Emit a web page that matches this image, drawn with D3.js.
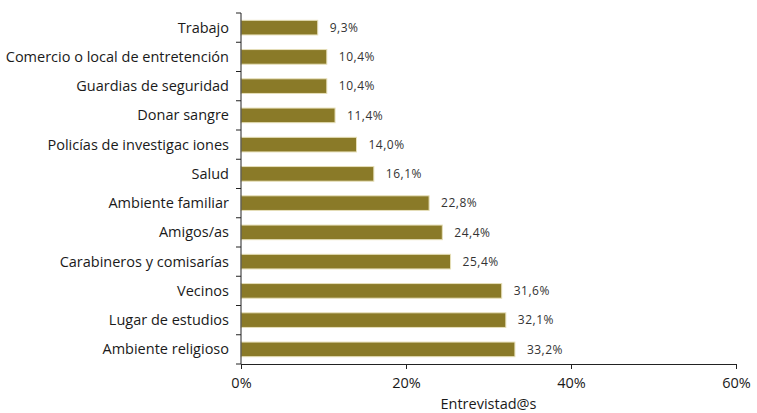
<!DOCTYPE html>
<html><head><meta charset="utf-8">
<script src="https://cdn.jsdelivr.net/npm/d3@7"></script>
<style>body{margin:0;background:#fff}</style>
</head><body><svg id="c" width="757" height="413"></svg>
<script>
const categories = ["Trabajo","Comercio o local de entretención","Guardias de seguridad","Donar sangre","Policías de investigac iones","Salud","Ambiente familiar","Amigos/as","Carabineros y comisarías","Vecinos","Lugar de estudios","Ambiente religioso"];
const values = [9.3,10.4,10.4,11.4,14.0,16.1,22.8,24.4,25.4,31.6,32.1,33.2];
const xTicks = [0,20,40,60];
const axisTitle = "Entrevistad@s";

(function(){
const svg = d3.select("#c");
const mL = 241, mR = 736, mT = 13, mB = 364;
const x = d3.scaleLinear().domain([0,60]).range([mL,mR]);
const y = d3.scaleBand().domain(categories).range([mT,mB]).paddingInner(0.5).paddingOuter(0.25);
const font = "'Open Sans', 'Noto Sans', sans-serif";

// bars
svg.append("g").selectAll("rect").data(values).join("rect")
  .attr("x", x(0)).attr("y",(d,i)=>y(categories[i]))
  .attr("width", d=>x(d)-x(0)).attr("height", y.bandwidth())
  .attr("fill","#8a7a28").attr("stroke","#e6dfb8").attr("stroke-width",1);

// value labels
svg.append("g").selectAll("text").data(values).join("text")
  .attr("x", d=>x(d)+12).attr("y",(d,i)=>y(categories[i])+y.bandwidth()/2)
  .attr("dy","0.35em").attr("font-family",font).attr("font-size",12)
  .attr("letter-spacing","0.5px").attr("fill","#333")
  .text(d=>d.toFixed(1).replace(".",",")+"%");

// y axis
const yAxis = svg.append("g");
yAxis.append("line").attr("x1",mL).attr("x2",mL).attr("y1",mT).attr("y2",mB).attr("stroke","#222");
const bounds = d3.range(categories.length+1).map(i=>mT + i*(mB-mT)/categories.length);
yAxis.selectAll("line.t").data(bounds).join("line").attr("class","t")
  .attr("x1",mL-5).attr("x2",mL).attr("y1",d=>d).attr("y2",d=>d).attr("stroke","#222");
yAxis.selectAll("text").data(categories).join("text")
  .attr("x",mL-12).attr("y",d=>y(d)+y.bandwidth()/2).attr("dy","0.35em")
  .attr("text-anchor","end").attr("font-family",font).attr("font-size",14.5).attr("fill","#1a1a1a")
  .text(d=>d);

// x axis
const xAxis = svg.append("g").attr("transform",`translate(0,${mB})`)
  .call(d3.axisBottom(x).tickValues(xTicks).tickFormat(d=>d+"%").tickSize(5).tickPadding(9));
xAxis.select(".domain").attr("stroke","#222");
xAxis.selectAll(".tick line").attr("stroke","#222");
xAxis.selectAll("text").attr("font-family",font).attr("font-size",14.5).attr("fill","#1a1a1a");

svg.append("text").attr("x",(mL+mR)/2).attr("y",409).attr("text-anchor","middle")
  .attr("font-family",font).attr("font-size",14.5).attr("fill","#1a1a1a").text(axisTitle);
})();
</script></body></html>
